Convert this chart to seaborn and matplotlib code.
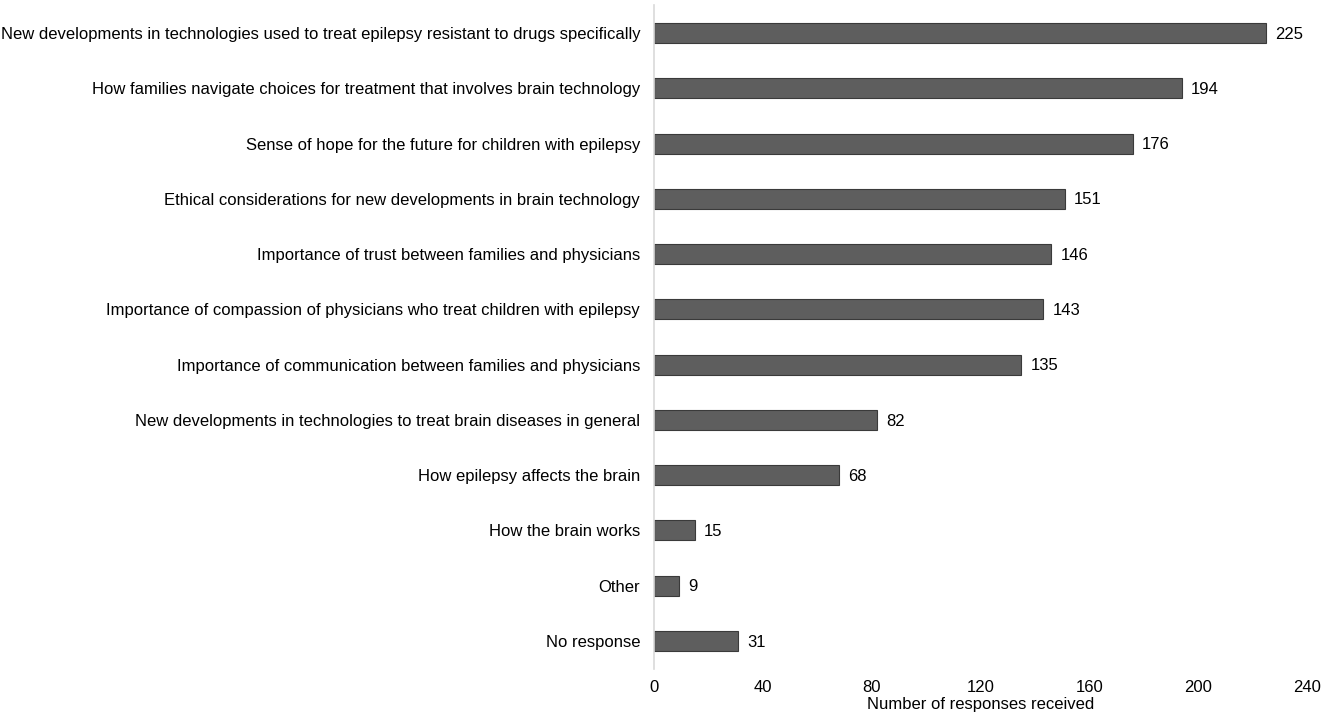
import matplotlib
matplotlib.use('Agg')
import matplotlib.pyplot as plt
import seaborn as sns
import pandas as pd

topics = [
    'New developments in technologies used to treat epilepsy resistant to drugs specifically',
    'How families navigate choices for treatment that involves brain technology',
    'Sense of hope for the future for children with epilepsy',
    'Ethical considerations for new developments in brain technology',
    'Importance of trust between families and physicians',
    'Importance of compassion of physicians who treat children with epilepsy',
    'Importance of communication between families and physicians',
    'New developments in technologies to treat brain diseases in general',
    'How epilepsy affects the brain',
    'How the brain works',
    'Other',
    'No response',
]
responses = [225, 194, 176, 151, 146, 143, 135, 82, 68, 15, 9, 31]
xticks = [0, 40, 80, 120, 160, 200, 240]

df = pd.DataFrame({'topic': topics, 'responses': responses})

sns.set_style('white')
plt.rcParams['font.family'] = ['Liberation Sans', 'DejaVu Sans']
plt.rcParams['text.color'] = 'black'
plt.rcParams['axes.labelcolor'] = 'black'

fig = plt.figure(figsize=(13.25, 7.2), dpi=100)
ax = fig.add_axes([0.4936, 0.0714, 0.4928, 0.9211])

sns.barplot(data=df, x='responses', y='topic', color='#5e5e5e', width=0.36,
            edgecolor='#3a3a3a', linewidth=0.8, saturation=1, ax=ax)

for i, v in enumerate(responses):
    ax.text(v + 3.4, i + 0.02, str(v), va='center', ha='left', fontsize=12, color='black')

ax.set_xlim(0, 240)
ax.set_ylim(len(topics) - 0.5, -0.5)
ax.set_xticks(xticks)
ax.set_ylabel('')
ax.set_xlabel('Number of responses received', fontsize=12, labelpad=2, color='black')
ax.tick_params(axis='both', length=0, labelsize=12, colors='black')
ax.tick_params(axis='y', pad=10)
ax.tick_params(axis='x', pad=8)

for s in ['top', 'right', 'bottom']:
    ax.spines[s].set_visible(False)
ax.spines['left'].set_color('#d9d9d9')
ax.spines['left'].set_linewidth(1.2)

fig.savefig('out.png', dpi=100, facecolor='white')
